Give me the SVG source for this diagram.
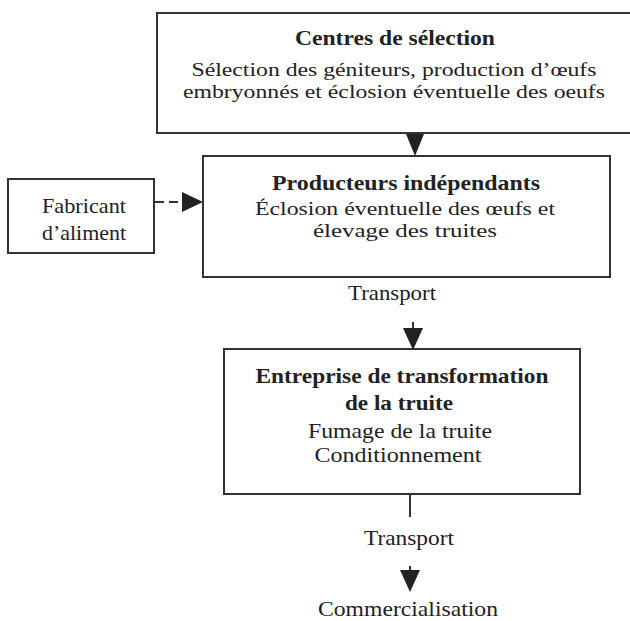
<svg xmlns="http://www.w3.org/2000/svg" width="630" height="621" viewBox="0 0 630 621">
<style>
.box{fill:#fff;stroke:#333;stroke-width:2}
.t{font-family:"Liberation Serif","Times New Roman",serif;font-size:21px;fill:#222;text-anchor:middle}
.s{font-size:19px}
.b{font-weight:bold}
.ln{stroke:#333;stroke-width:2;fill:none}
.dash{stroke:#333;stroke-width:2;stroke-dasharray:9,5;fill:none}
.ah{fill:#222}
</style>
<rect width="630" height="621" fill="#fff"/>
<g id="centres">
<rect class="box" x="157" y="13" width="490" height="120"/>
<text class="t b" x="395" y="45" textLength="200" lengthAdjust="spacingAndGlyphs">Centres de sélection</text>
<text class="t s" x="394" y="76" textLength="405" lengthAdjust="spacingAndGlyphs">Sélection des géniteurs, production d’œufs</text>
<text class="t s" x="394" y="98" textLength="422" lengthAdjust="spacingAndGlyphs">embryonnés et éclosion éventuelle des oeufs</text>
</g>
<g id="producteurs">
<rect class="box" x="203" y="156" width="407" height="121"/>
<text class="t b" x="406" y="190" textLength="268" lengthAdjust="spacingAndGlyphs">Producteurs indépendants</text>
<text class="t s" x="405" y="215" textLength="300" lengthAdjust="spacingAndGlyphs">Éclosion éventuelle des œufs et</text>
<text class="t s" x="405" y="237" textLength="184" lengthAdjust="spacingAndGlyphs">élevage des truites</text>
</g>
<g id="fabricant">
<rect class="box" x="8" y="179" width="146" height="74"/>
<text class="t" x="84" y="213" textLength="84" lengthAdjust="spacingAndGlyphs">Fabricant</text>
<text class="t" x="84" y="240" textLength="84" lengthAdjust="spacingAndGlyphs">d’aliment</text>
</g>
<g id="entreprise">
<rect class="box" x="224" y="349" width="356" height="145"/>
<text class="t b" x="402" y="383" textLength="293" lengthAdjust="spacingAndGlyphs">Entreprise de transformation</text>
<text class="t b" x="399" y="410" textLength="108" lengthAdjust="spacingAndGlyphs">de la truite</text>
<text class="t" x="400" y="438" textLength="184" lengthAdjust="spacingAndGlyphs">Fumage de la truite</text>
<text class="t" x="398" y="462" textLength="167" lengthAdjust="spacingAndGlyphs">Conditionnement</text>
</g>
<g id="commercialisation">
<text class="t" x="408" y="616" textLength="180" lengthAdjust="spacingAndGlyphs">Commercialisation</text>
</g>
<g id="connectors">
<polygon class="ah" points="406,134 424,134 415,156"/>
<line class="dash" x1="155" y1="202" x2="183" y2="202"/>
<polygon class="ah" points="182,192 182,212 203,202"/>
<text class="t" x="392" y="300" textLength="88" lengthAdjust="spacingAndGlyphs">Transport</text>
<line class="ln" x1="413" y1="322" x2="413" y2="332"/>
<polygon class="ah" points="403,328 423,328 413,350"/>
<line class="ln" x1="410" y1="494" x2="410" y2="517"/>
<text class="t" x="409" y="545" textLength="90" lengthAdjust="spacingAndGlyphs">Transport</text>
<line class="ln" x1="410" y1="566" x2="410" y2="572"/>
<polygon class="ah" points="400,570 420,570 410,592"/>
</g>
</svg>
